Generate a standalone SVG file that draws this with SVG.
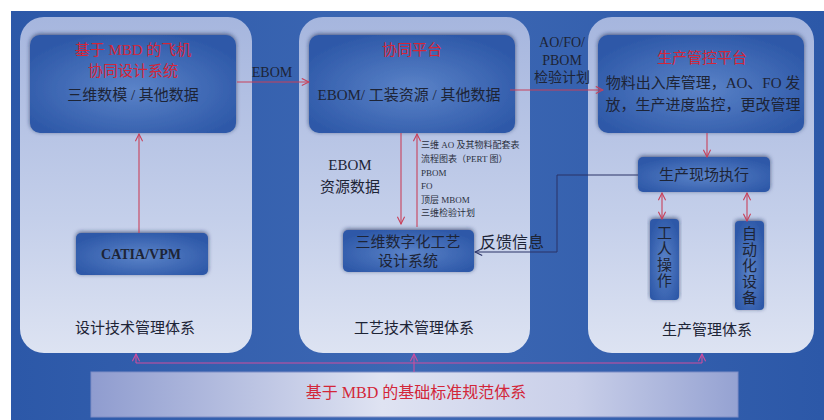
<svg xmlns="http://www.w3.org/2000/svg" width="824" height="420" viewBox="0 0 824 420">
<defs>
<linearGradient id="bg" x1="0" y1="0" x2="1" y2="0">
<stop offset="0" stop-color="#2c58a8"/><stop offset="0.5" stop-color="#3d68b4"/><stop offset="1" stop-color="#2c58a8"/>
</linearGradient>
<linearGradient id="panel" x1="0" y1="0" x2="0" y2="1">
<stop offset="0" stop-color="#a6b6de"/><stop offset="0.6" stop-color="#c4cfea"/><stop offset="1" stop-color="#dde3f2"/>
</linearGradient>
<radialGradient id="box" cx="0.5" cy="0.55" r="0.6">
<stop offset="0" stop-color="#5b83c8"/><stop offset="1" stop-color="#2d58a8"/>
</radialGradient>
<linearGradient id="bar" x1="0" y1="0" x2="1" y2="0">
<stop offset="0" stop-color="#8f9ccf"/><stop offset="0.45" stop-color="#dfe3f2"/><stop offset="0.75" stop-color="#c9cfe9"/><stop offset="1" stop-color="#95a2d2"/>
</linearGradient>
<filter id="sh" x="-10%" y="-20%" width="120%" height="140%">
<feDropShadow dx="0" dy="-1" stdDeviation="2" flood-color="#1a2a55" flood-opacity="0.7"/>
</filter>
<marker id="ar" viewBox="0 0 10 10" refX="9" refY="5" markerWidth="9" markerHeight="9" orient="auto-start-reverse" markerUnits="userSpaceOnUse">
<path d="M1,1 L9,5 L1,9" fill="none" stroke="#c8405a" stroke-width="1.2"/>
</marker>
<marker id="ap" viewBox="0 0 10 10" refX="9" refY="5" markerWidth="9" markerHeight="9" orient="auto" markerUnits="userSpaceOnUse">
<path d="M1,1 L9,5 L1,9" fill="none" stroke="#d04d9e" stroke-width="1.2"/>
</marker>
<marker id="ad" viewBox="0 0 10 10" refX="9" refY="5" markerWidth="9" markerHeight="9" orient="auto" markerUnits="userSpaceOnUse">
<path d="M1,1 L9,5 L1,9" fill="none" stroke="#2a3266" stroke-width="1.2"/>
</marker>
</defs>
<style>
text{font-family:"Liberation Serif","Noto Sans CJK SC",serif;fill:#1d2436;}
.t{font-size:15px;text-anchor:middle;}
.r{fill:#d32639;}
.s{font-size:9px;fill:#2a3040;}
.panel{fill:url(#panel);}
.box{fill:url(#box);filter:url(#sh);}
.c{fill:none;stroke:#c8405a;stroke-width:1.1;}
.p{fill:none;stroke:#d04d9e;stroke-width:1.1;}
.d{fill:none;stroke:#2a3266;stroke-width:1;}
</style>
<rect x="11" y="11" width="813" height="409" fill="url(#bg)"/>

<g id="panel-design">
<rect class="panel" x="20" y="17" width="232" height="336" rx="24"/>
<text class="t" x="135" y="333">设计技术管理体系</text>
</g>
<g id="panel-process">
<rect class="panel" x="299" y="17" width="231" height="336" rx="24"/>
<text class="t" x="414" y="333">工艺技术管理体系</text>
</g>
<g id="panel-production">
<rect class="panel" x="588" y="17" width="226" height="336" rx="24"/>
<text class="t" x="707" y="335">生产管理体系</text>
</g>

<g id="mbd-design">
<rect class="box" x="30" y="35" width="206" height="98" rx="10"/>
<text class="t r" x="133" y="55">基于 MBD 的飞机</text>
<text class="t r" x="133" y="76">协同设计系统</text>
<text class="t" x="133" y="100">三维数模 / 其他数据</text>
</g>
<g id="collab-platform">
<rect class="box" x="309" y="35" width="206" height="98" rx="10"/>
<text class="t r" x="412" y="55">协同平台</text>
<text class="t" x="409" y="100">EBOM/ 工装资源 / 其他数据</text>
</g>
<g id="prod-platform">
<rect class="box" x="598" y="35" width="206" height="98" rx="10"/>
<text class="t r" x="702" y="63">生产管控平台</text>
<text class="t" x="703" y="88">物料出入库管理，AO、FO 发</text>
<text class="t" x="703" y="110">放，生产进度监控，更改管理</text>
</g>
<g id="catia">
<rect class="box" x="76" y="233" width="132" height="42" rx="5"/>
<text class="t" x="141" y="259" style="font-weight:bold;font-size:14px">CATIA/VPM</text>
</g>
<g id="process-design">
<rect class="box" x="343" y="230" width="131" height="42" rx="5"/>
<text class="t" x="408" y="247">三维数字化工艺</text>
<text class="t" x="408" y="266">设计系统</text>
</g>
<g id="shopfloor">
<rect class="box" x="638" y="157" width="132" height="35" rx="5"/>
<text class="t" x="704" y="180">生产现场执行</text>
</g>
<g id="worker">
<rect class="box" x="650" y="219" width="29" height="81" rx="4"/>
<text class="t" x="664.5" y="238">工</text>
<text class="t" x="664.5" y="254">人</text>
<text class="t" x="664.5" y="270">操</text>
<text class="t" x="664.5" y="286">作</text>
</g>
<g id="automation">
<rect class="box" x="735" y="221" width="29" height="89" rx="4"/>
<text class="t" x="749.5" y="239">自</text>
<text class="t" x="749.5" y="255">动</text>
<text class="t" x="749.5" y="271">化</text>
<text class="t" x="749.5" y="287">设</text>
<text class="t" x="749.5" y="303">备</text>
</g>
<g id="standards">
<rect x="91" y="372" width="647" height="45" fill="url(#bar)" stroke="#7f8dc6" stroke-width="1"/>
<text class="t r" x="416" y="398" style="font-size:16px">基于 MBD 的基础标准规范体系</text>
</g>

<g id="connectors">
<path class="c" d="M237,82 H309" marker-end="url(#ar)"/>
<text class="t" x="272" y="77" style="font-size:14px">EBOM</text>
<path class="c" d="M510,90 H603" marker-end="url(#ar)"/>
<text class="t" x="562" y="47" style="font-size:14px">AO/FO/</text>
<text class="t" x="562" y="65" style="font-size:14px">PBOM</text>
<text class="t" x="562" y="82" style="font-size:14px">检验计划</text>
<path class="c" d="M139,233 V134" marker-end="url(#ar)"/>
<path class="c" d="M401,133 V224" marker-end="url(#ar)"/>
<path class="c" d="M417,227 V134" marker-end="url(#ar)"/>
<text class="t" x="350" y="170" style="font-size:15px">EBOM</text>
<text class="t" x="350" y="192" style="font-size:15px">资源数据</text>
<text class="s" x="421" y="148">三维 AO 及其物料配套表</text>
<text class="s" x="421" y="162">流程图表（PERT 图）</text>
<text class="s" x="421" y="176">PBOM</text>
<text class="s" x="421" y="189">FO</text>
<text class="s" x="421" y="203">顶层 MBOM</text>
<text class="s" x="421" y="216">三维检验计划</text>
<path class="c" d="M707,133 V157" marker-end="url(#ar)"/>
<path class="c" d="M662,193 V219" marker-start="url(#ar)" marker-end="url(#ar)"/>
<path class="c" d="M747,193 V221" marker-start="url(#ar)" marker-end="url(#ar)"/>
<path class="d" d="M638,175 H557 V252 H475" marker-end="url(#ad)"/>
<text class="t" x="512" y="248" style="font-size:16px">反馈信息</text>
<path class="p" d="M136,363 H702"/>
<path class="p" d="M136,363 V354" marker-end="url(#ap)"/>
<path class="p" d="M702,363 V354" marker-end="url(#ap)"/>
<path class="p" d="M414,372 V354" marker-end="url(#ap)"/>
</g>
</svg>
